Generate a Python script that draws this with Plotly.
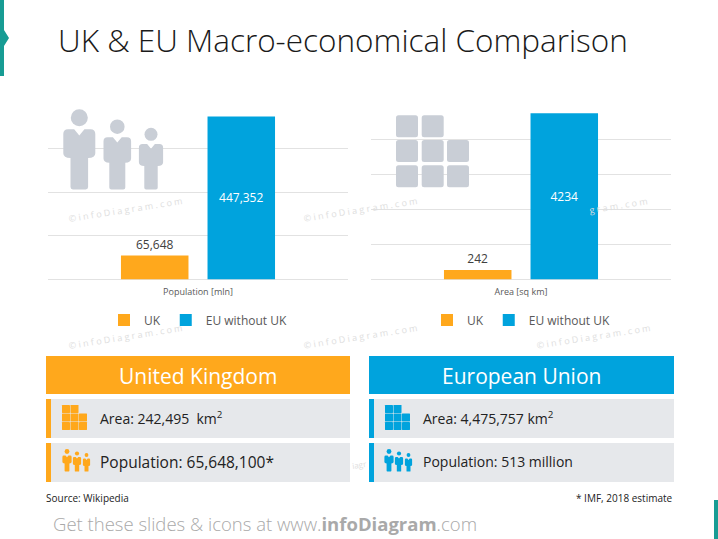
import plotly.graph_objects as go

W, H = 718, 539
FONT = "Open Sans"
ORANGE = "#FFA81C"
BLUE = "#00A3DD"
ICON = "#C9CED6"
PANEL = "#E6E8EB"
TEAL = "#179C94"

series_names = ["UK", "EU without UK"]
pop_category = ["Population [mln]"]
pop_uk = [65648]
pop_eu = [447352]
area_category = ["Area [sq km]"]
area_uk = [242]
area_eu = [4234]


def px(x):
    return x / W


def py(y):
    return 1 - y / H


def P(x, y):
    return f"{px(x):.5f},{py(y):.5f}"


fig = go.Figure()


def add_pair(cat, uk, eu, xaxis, yaxis, legend, fmt):
    fig.add_trace(go.Bar(
        x=cat, y=uk, name=series_names[0], marker=dict(color=ORANGE, line=dict(width=0)),
        text=[fmt.format(v) for v in uk], textposition="outside", cliponaxis=False,
        textfont=dict(color="#404040", size=12, family=FONT),
        xaxis=xaxis, yaxis=yaxis, legend=legend))
    fig.add_trace(go.Bar(
        x=cat, y=eu, name=series_names[1], marker=dict(color=BLUE, line=dict(width=0)),
        text=[fmt.format(v) for v in eu], textposition="inside", insidetextanchor="middle",
        textangle=0, constraintext="none",
        insidetextfont=dict(color="#FFFFFF", size=12, family=FONT),
        xaxis=xaxis, yaxis=yaxis, legend=legend))


add_pair(pop_category, pop_uk, pop_eu, "x", "y", "legend", "{:,}")
add_pair(area_category, area_uk, area_eu, "x2", "y2", "legend2", "{}")

shapes = []


def rect(x0, y0, x1, y1, color):
    shapes.append(dict(type="rect", xref="paper", yref="paper", x0=px(x0), x1=px(x1),
                       y0=py(y1), y1=py(y0), fillcolor=color, line=dict(width=0)))


def poly(points, color):
    path = "M" + " L".join(P(*p) for p in points) + " Z"
    shapes.append(dict(type="path", xref="paper", yref="paper", path=path,
                       fillcolor=color, line=dict(width=0)))


def round_rect(x0, y0, x1, y1, r, color):
    path = (f"M{P(x0+r,y0)} L{P(x1-r,y0)} Q{P(x1,y0)} {P(x1,y0+r)} L{P(x1,y1-r)} Q{P(x1,y1)} {P(x1-r,y1)} "
            f"L{P(x0+r,y1)} Q{P(x0,y1)} {P(x0,y1-r)} L{P(x0,y0+r)} Q{P(x0,y0)} {P(x0+r,y0)} Z")
    shapes.append(dict(type="path", xref="paper", yref="paper", path=path,
                       fillcolor=color, line=dict(width=0)))


def circle(cx, cy, r, color):
    shapes.append(dict(type="circle", xref="paper", yref="paper", x0=px(cx - r), x1=px(cx + r),
                       y0=py(cy + r), y1=py(cy - r), fillcolor=color, line=dict(width=0)))


def person(cx, head_y, head_r, half_sh, top, sh_bot, half_leg, bottom, color):
    circle(cx, head_y, head_r, color)
    c = half_sh * 0.3
    n = half_sh * 0.32
    path = (f"M{P(cx-half_sh+c,top)} L{P(cx-n,top)} L{P(cx,top+n*1.2)} L{P(cx+n,top)} L{P(cx+half_sh-c,top)} "
            f"Q{P(cx+half_sh,top)} {P(cx+half_sh,top+c)} L{P(cx+half_sh,sh_bot-c)} Q{P(cx+half_sh,sh_bot)} {P(cx+half_leg,sh_bot)} "
            f"L{P(cx+half_leg,bottom-c*0.5)} Q{P(cx+half_leg,bottom)} {P(cx+half_leg-c*0.5,bottom)} "
            f"L{P(cx-half_leg+c*0.5,bottom)} Q{P(cx-half_leg,bottom)} {P(cx-half_leg,bottom-c*0.5)} "
            f"L{P(cx-half_leg,sh_bot)} Q{P(cx-half_sh,sh_bot)} {P(cx-half_sh,sh_bot-c)} L{P(cx-half_sh,top+c)} "
            f"Q{P(cx-half_sh,top)} {P(cx-half_sh+c,top)} Z")
    shapes.append(dict(type="path", xref="paper", yref="paper", path=path,
                       fillcolor=color, line=dict(width=0)))


def tiles(cols, rows, size, r, color):
    for j, y in enumerate(rows):
        for i, x in enumerate(cols):
            if j == 0 and i == 2:
                continue
            round_rect(x, y, x + size, y + size, r, color)


# corner accents
poly([(0, 0), (4, 0), (4, 30), (9, 38), (4, 46), (4, 76), (0, 76)], TEAL)
rect(714, 500, 718, 539, TEAL)

# chart pictograms
person(79.3, 117.7, 8.5, 16, 129.3, 158, 8.8, 189.5, ICON)
person(117.3, 126.7, 7.3, 13.8, 137.3, 162.7, 8, 189.5, ICON)
person(151, 134.3, 6.5, 12.1, 144, 166, 6.7, 189.5, ICON)
tiles([396, 421.7, 447], [115.3, 140, 165.3], 22, 2.5, ICON)

# fact panels
for x0, x1, col in [(46, 350, ORANGE), (369, 674, BLUE)]:
    rect(x0, 356, x1, 394, col)
    for y0, y1 in [(399, 438), (443, 482)]:
        rect(x0, y0, x1, y1, PANEL)
        rect(x0, y0, x0 + 5, y1, col)

for x0, col in [(62, ORANGE), (385, BLUE)]:
    tiles([x0, x0 + 8.5, x0 + 17], [405, 413.5, 422], 8, 0.4, col)

for x0, col in [(62, ORANGE), (384, BLUE)]:
    person(x0 + 5, 451.5, 2.4, 4.6, 455.5, 463.5, 2.4, 471.5, col)
    person(x0 + 15, 453.5, 2.1, 4.1, 457, 465, 2.2, 471.5, col)
    person(x0 + 24.5, 455, 1.9, 3.6, 458.5, 466, 2, 471.5, col)

annotations = []


def label(text, x, y, size, color="#222222", anchor="left", weight=None, angle=0):
    f = dict(family=FONT, size=size, color=color)
    if weight:
        f["weight"] = weight
    annotations.append(dict(text=text, x=px(x), y=py(y), xref="paper", yref="paper",
                            xanchor=anchor, yanchor="middle", showarrow=False,
                            font=f, textangle=angle))


# watermarks
WM = "#DEDEDE"
for x, y in [(126, 209), (360, 209), (126, 336), (360, 336), (593, 336)]:
    label("© i n f o D i a g r a m . c o m", x, y, 9, WM, "center", angle=-9)
label("g r a m . c o m", 618, 205, 9, WM, "center", angle=-9)
label("iagr", 359, 464, 8, WM, "center", angle=-9)

label("UK &amp; EU Macro-economical Comparison", 56, 39, 31.5, "#1A1A1A", weight=300)
label("United Kingdom", 198, 376, 21, "#FFFFFF", "center")
label("European Union", 521, 376, 21, "#FFFFFF", "center")
label("Area: 242,495  km<sup>2</sup>", 98, 418, 14, "#222222")
label("Population: 65,648,100*", 98, 462, 15.5, "#222222")
label("Area: 4,475,757 km<sup>2</sup>", 421, 418, 14, "#222222")
label("Population: 513 million", 421, 461, 14, "#222222")
label("Source: Wikipedia", 44, 498, 10, "#222222")
label("* IMF, 2018 estimate", 675, 498, 10, "#222222", "right")
label("Get these slides &amp; icons at www.<b>infoDiagram</b>.com", 51, 523, 18.5, "#A9A9A9", weight=300)


def x_axis(y_name, dom):
    return dict(domain=dom, anchor=y_name, type="category", showgrid=False, showline=False,
                ticks="", ticklabelstandoff=5, tickfont=dict(family=FONT, size=9, color="#595959"))


def y_axis(x_name, top, step):
    return dict(domain=[py(279.5), py(104.5)], anchor=x_name, range=[0, top], dtick=step,
                showticklabels=False, showgrid=True, gridcolor="#E2E2E2", gridwidth=1,
                zeroline=True, zerolinecolor="#E2E2E2", zerolinewidth=1, ticks="")


def legend_at(x):
    return dict(orientation="h", x=px(x), xanchor="center", y=py(320), yanchor="middle",
                font=dict(family=FONT, size=12, color="#595959"), bgcolor="rgba(0,0,0,0)",
                itemclick=False, itemdoubleclick=False)


fig.update_layout(
    width=W, height=H, margin=dict(l=0, r=0, t=0, b=0),
    paper_bgcolor="white", plot_bgcolor="rgba(0,0,0,0)",
    font=dict(family=FONT), barmode="group", bargap=0.423, bargroupgap=0.22,
    xaxis=x_axis("y", [px(48), px(348)]),
    yaxis=y_axis("x", 480000, 120000),
    xaxis2=x_axis("y2", [px(371), px(671)]),
    yaxis2=y_axis("x2", 4460, 892),
    legend=legend_at(198), legend2=legend_at(521),
    shapes=shapes, annotations=annotations,
)

fig.write_html("out.html", config={"displayModeBar": False},
               post_script="document.body.style.margin='0';document.body.style.overflow='hidden';")
